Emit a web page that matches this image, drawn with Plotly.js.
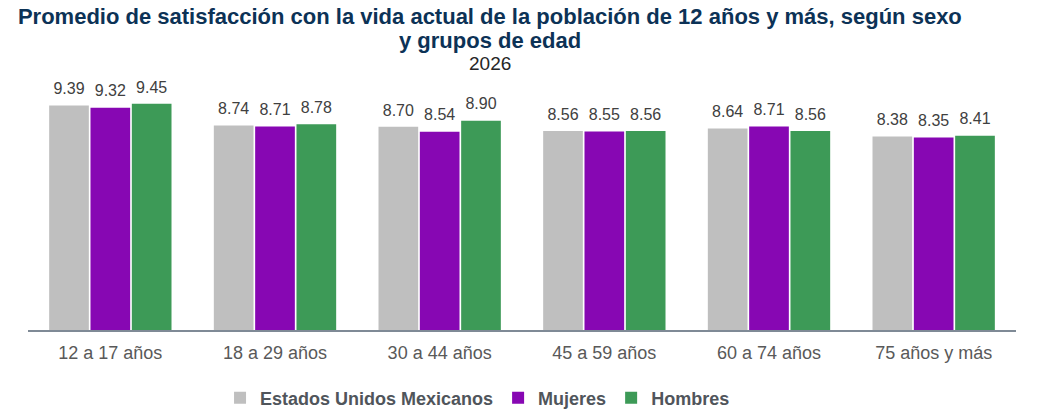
<!DOCTYPE html>
<html>
<head>
<meta charset="utf-8">
<script src="https://cdn.plot.ly/plotly-3.0.1.min.js"></script>
<style>html,body{margin:0;padding:0;background:#fff;}#chart{width:1044px;height:416px;}</style>
</head>
<body>
<div id="chart"></div>
<script>
const categories = ["12 a 17 años", "18 a 29 años", "30 a 44 años", "45 a 59 años", "60 a 74 años", "75 años y más"];
const seriesNames = ["Estados Unidos Mexicanos", "Mujeres", "Hombres"];
const totalValues = [9.39, 8.74, 8.70, 8.56, 8.64, 8.38];
const mujeresValues = [9.32, 8.71, 8.54, 8.55, 8.71, 8.35];
const hombresValues = [9.45, 8.78, 8.90, 8.56, 8.56, 8.41];
const colors = ["#bfbfbf", "#8707b3", "#3d9a57"];
const titleLine1 = "Promedio de satisfacción con la vida actual de la población de 12 años y más, según sexo";
const titleLine2 = "y grupos de edad";
const subtitleText = "2026";

const FONT = "Liberation Sans, Arial, sans-serif";
const series = [totalValues, mujeresValues, hombresValues];
const bars = series.map((vals, i) => ({
  type: "bar",
  name: seriesNames[i],
  x: categories,
  y: vals,
  marker: {color: colors[i], line: {width: 0}},
  hoverinfo: "skip"
}));
const labels = series.map((vals, i) => ({
  type: "scatter",
  mode: "markers+text",
  x: categories,
  y: vals,
  text: vals.map(v => v.toFixed(2)),
  textposition: "top center",
  marker: {size: 10, opacity: 0, color: colors[i]},
  textfont: {family: FONT, size: 16, color: "#404040"},
  cliponaxis: false,
  showlegend: false,
  hoverinfo: "skip"
}));

const layout = {
  width: 1044, height: 416,
  margin: {l: 28, r: 28, t: 60, b: 86, pad: 0},
  paper_bgcolor: "#fff", plot_bgcolor: "#fff",
  barmode: "group",
  bargap: 0.247,
  bargroupgap: 0.04,
  scattermode: "group",
  scattergap: 0.247,
  font: {family: FONT},
  title: {
    text: titleLine1,
    font: {family: FONT, size: 22, color: "#0c3256", weight: "bold"},
    x: 0.4675, xanchor: "center", xref: "paper",
    y: 1 - 16 / 416, yanchor: "middle", yref: "container"
  },
  annotations: [{
    text: titleLine2, xref: "paper", yref: "paper",
    x: 0.4675, y: 1, xanchor: "center", yanchor: "middle",
    yshift: 20, showarrow: false,
    font: {family: FONT, size: 22, color: "#0c3256", weight: "bold"}
  }, {
    text: subtitleText, xref: "paper", yref: "paper",
    x: 0.4675, y: 1, xanchor: "center", yanchor: "middle",
    yshift: -3, showarrow: false,
    font: {family: FONT, size: 19, color: "#262626"}
  }],
  xaxis: {
    showline: true, linecolor: "#7f8a96", linewidth: 2,
    ticks: "", showgrid: false, zeroline: false,
    tickfont: {family: FONT, size: 18, color: "#595959"},
    ticklabelstandoff: 5
  },
  yaxis: {
    visible: false, range: [2.08, 10.875], showgrid: false, zeroline: false
  },
  showlegend: true,
  legend: {
    orientation: "h", x: 0.455, xanchor: "center", xref: "paper",
    y: 1 - 398 / 416, yanchor: "middle", yref: "container",
    font: {family: FONT, size: 18, color: "#50555b", weight: "bold"},
    traceorder: "normal"
  }
};

Plotly.newPlot("chart", bars.concat(labels), layout, {displayModeBar: false, staticPlot: true});
</script>
</body>
</html>
